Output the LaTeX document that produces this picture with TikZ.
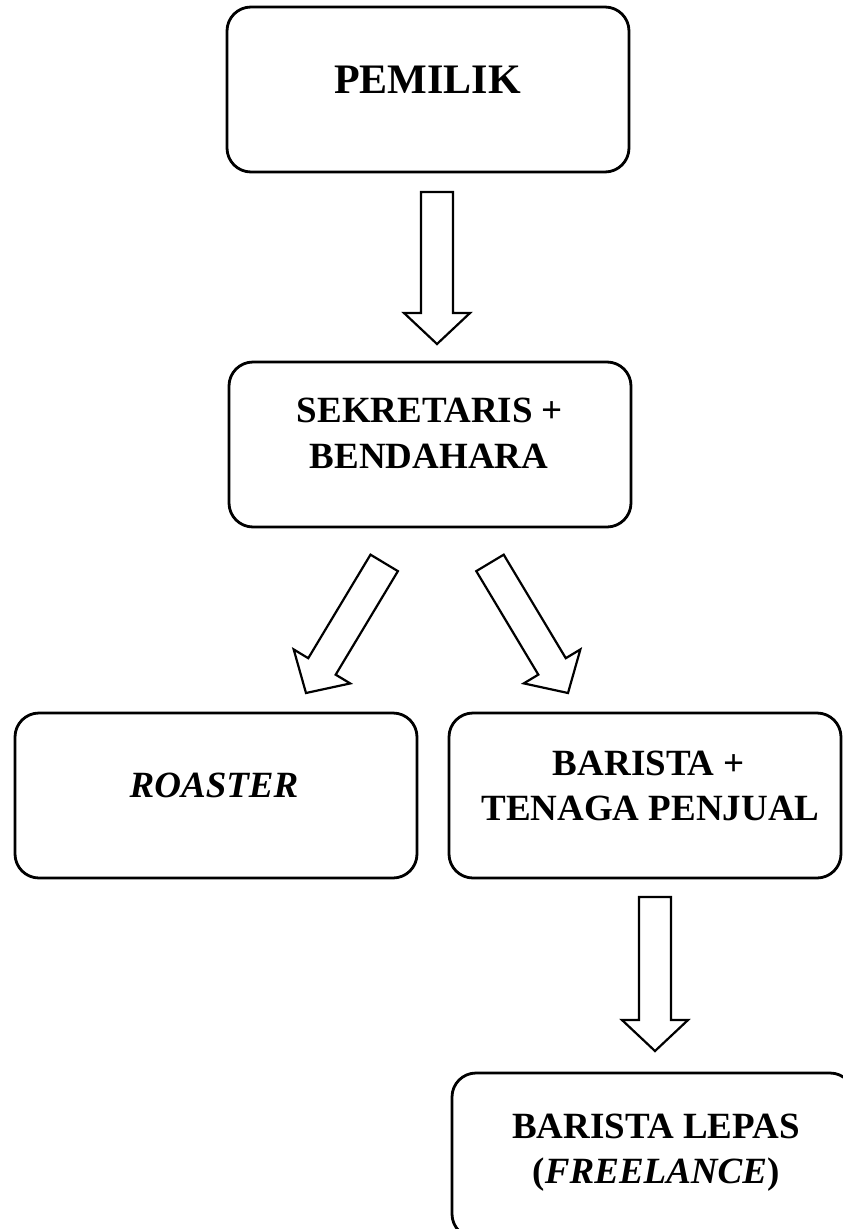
\documentclass[tikz,border=0pt]{standalone}
\usepackage{fontspec}
\setmainfont{Liberation Serif}
\usetikzlibrary{calc}
\tikzset{
  box/.style={draw=black, line width=2.8pt, rounded corners=24pt, minimum height=165pt, inner sep=0pt},
  lbl/.style={anchor=base, inner sep=0pt, text=black, font=\bfseries\fontsize{37}{46}\selectfont},
  biglbl/.style={lbl, font=\bfseries\fontsize{42}{50}\selectfont},
  blk/.style={draw=black, line width=2.2pt, fill=white, line join=miter},
}
\newcommand{\blockarrow}[2]{%
  \coordinate (h) at ($(#2)!31pt!(#1)$);
  \draw[blk] ($(#1)!16pt!90:(#2)$) -- ($(h)!16pt!90:(#2)$) -- ($(h)!33pt!90:(#2)$) -- (#2)
    -- ($(h)!33pt!-90:(#2)$) -- ($(h)!16pt!-90:(#2)$) -- ($(#1)!16pt!-90:(#2)$) -- cycle;}
\begin{document}
\begin{tikzpicture}[x=1pt,y=-1pt]
\clip (0,0) rectangle (843,1229);
\fill[white] (0,0) rectangle (843,1229);
% boxes
\node[box, minimum width=402pt] (pemilik) at (428,89.5) {};
\node[box, minimum width=402pt] (sekretaris) at (430,444.5) {};
\node[box, minimum width=402pt] (roaster) at (216,795.5) {};
\node[box, minimum width=392pt] (barista) at (645,795.5) {};
\node[box, minimum width=402pt] (lepas) at (653,1155.5) {};
% texts
\node[biglbl] (tpemilik) at (427.5,93) {PEMILIK};
\node[lbl] (tsek1) at (430,422) {SEKRETARIS +};
\node[lbl] (tsek2) at (429,468) {BENDAHARA};
\node[lbl] (troaster) at (214,797) {\textit{ROASTER}};
\node[lbl] (tbar1) at (649,775) {BARISTA +};
\node[lbl] (tbar2) at (650.5,820) {TENAGA PENJUAL};
\node[lbl] (tlep1) at (656,1138) {BARISTA LEPAS};
\node[lbl] (tlep2) at (656,1183) {(\textit{FREELANCE})};
% arrow end points
\coordinate (a1s) at (437,192);   \coordinate (a1e) at (437,344);
\coordinate (a2s) at (384.2,562.9); \coordinate (a2e) at (306,693);
\coordinate (a3s) at (490,562.9); \coordinate (a3e) at (568,693);
\coordinate (a4s) at (655,897);   \coordinate (a4e) at (655,1051);
\blockarrow{a1s}{a1e}
\blockarrow{a2s}{a2e}
\blockarrow{a3s}{a3e}
\blockarrow{a4s}{a4e}
\end{tikzpicture}
\end{document}
